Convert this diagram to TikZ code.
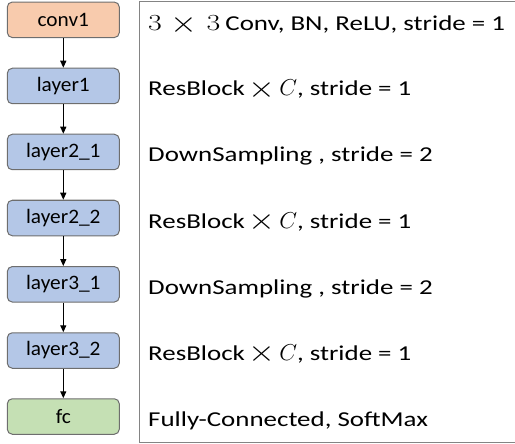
\documentclass[tikz,border=0pt]{standalone}
\usepackage{fix-cm}
\usepackage{graphicx}
\usepackage[no-math]{fontspec}
\setmainfont{Carlito}
\newfontfamily\descfont[FakeStretch=1.27]{Carlito}
\newfontfamily\boxfont[FakeStretch=1.04]{Carlito}
\usetikzlibrary{arrows.meta}
\definecolor{borderc}{HTML}{6E6E6E}
\definecolor{orangef}{HTML}{F8CBAD}
\definecolor{bluef}{HTML}{B4C7E7}
\definecolor{greenf}{HTML}{C5E0B4}
\newcommand{\mathpart}[1]{\mbox{\fontsize{23}{28}\selectfont$#1$}}
\newcommand{\digitthree}{\scalebox{1.3}[1]{\mathpart{3}}}
\newcommand{\bigtimes}{\raisebox{-1.7pt}{\scalebox{1.5}[1.3]{\mathpart{\times}}}}
\newcommand{\timesC}{\hspace{3.5pt}\bigtimes\hspace{4pt}\mathpart{C}}
\tikzset{
  layerbox/.style={draw=borderc, line width=1pt, rounded corners=5pt, minimum width=112pt, minimum height=35.5pt, inner sep=0pt, font=\boxfont\fontsize{20.5}{24}\selectfont},
  desc/.style={anchor=base west, inner sep=0pt, font=\descfont\fontsize{21.2}{25}\selectfont},
  flow/.style={-{Triangle[length=7pt,width=6pt]}, line width=1.2pt, black}
}
\begin{document}
\begin{tikzpicture}[x=1pt,y=-1pt]
\useasboundingbox (0,0) rectangle (515,444);
\draw[draw=borderc!85, line width=1.5pt] (139.5,1.5) rectangle (520,442.5);
\node[layerbox, fill=orangef] (c1) at (63.3,19.8) {conv1};
\node[layerbox, fill=bluef] (l1) at (63.3,86) {layer1};
\node[layerbox, fill=bluef] (l21) at (63.3,152) {layer2\_1};
\node[layerbox, fill=bluef] (l22) at (63.3,218) {layer2\_2};
\node[layerbox, fill=bluef] (l31) at (63.3,284.3) {layer3\_1};
\node[layerbox, fill=bluef] (l32) at (63.3,350.5) {layer3\_2};
\node[layerbox, fill=greenf] (fc) at (63.3,416.5) {fc};
\draw[flow] (c1) -- (l1);
\draw[flow] (l1) -- (l21);
\draw[flow] (l21) -- (l22);
\draw[flow] (l22) -- (l31);
\draw[flow] (l31) -- (l32);
\draw[flow] (l32) -- (fc);
\node[desc] (d1) at (148,31) {\digitthree\hspace{9pt}\bigtimes\hspace{9pt}\digitthree\hspace{5pt}Conv, BN, ReLU, stride = 1};
\node[desc] (d2) at (148,96) {ResBlock\timesC, stride = 1};
\node[desc] (d3) at (148,162) {DownSampling , stride = 2};
\node[desc] (d4) at (148,228) {ResBlock\timesC, stride = 1};
\node[desc] (d5) at (148,294) {DownSampling , stride = 2};
\node[desc] (d6) at (148,360) {ResBlock\timesC, stride = 1};
\node[desc] (d7) at (148,426) {Fully-Connected,\ SoftMax};
\end{tikzpicture}
\end{document}
